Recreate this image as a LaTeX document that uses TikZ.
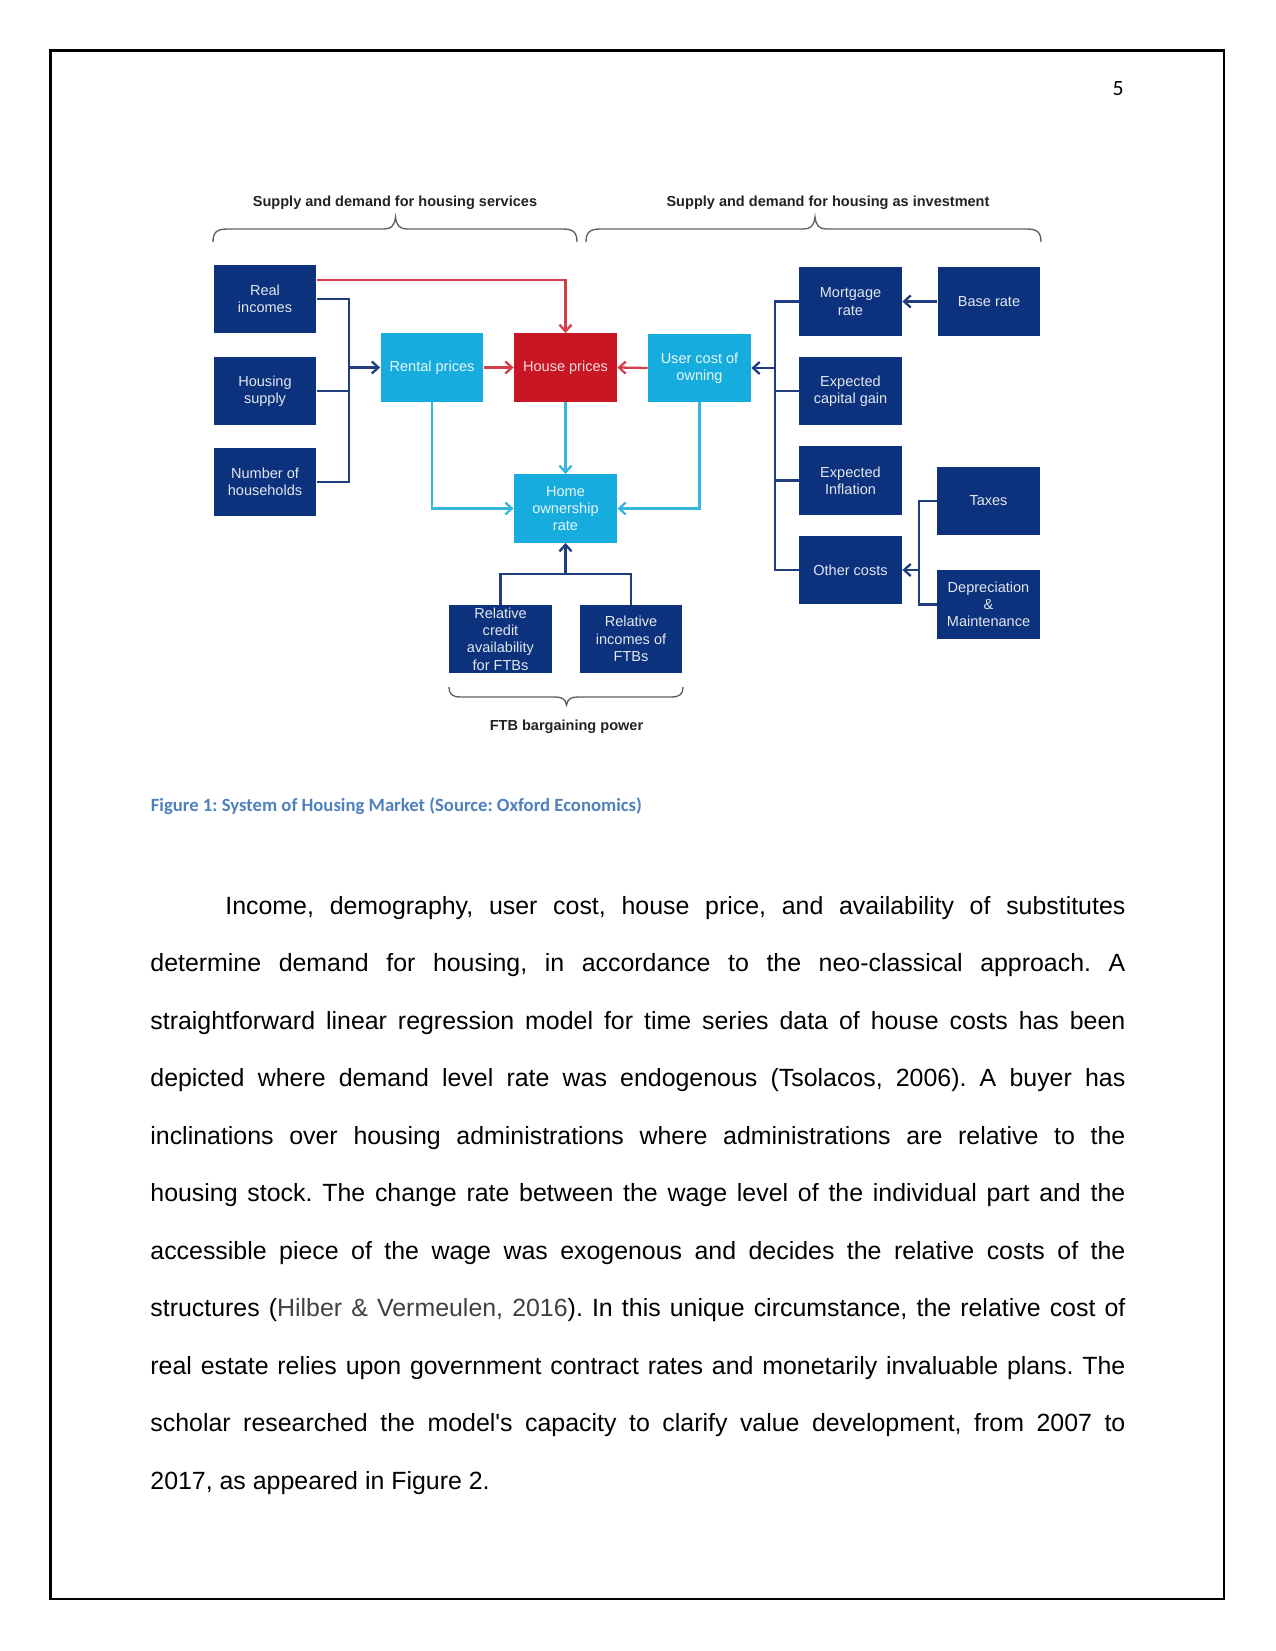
\documentclass[tikz,border=0pt]{standalone}
\usepackage{fontspec}
\setmainfont{Liberation Sans}
\newfontfamily\bodyfont{Liberation Sans}
\newfontfamily\calibri{Carlito}
\usetikzlibrary{arrows.meta,calc}
\definecolor{navy}{RGB}{12,50,125}
\definecolor{cyanc}{RGB}{22,173,222}
\definecolor{redc}{RGB}{200,22,36}
\definecolor{lineblue}{RGB}{30,62,128}
\definecolor{redline}{RGB}{212,62,75}
\definecolor{cyanline}{RGB}{55,183,222}
\definecolor{bracec}{RGB}{95,95,95}
\definecolor{hdrc}{RGB}{35,35,35}
\definecolor{capblue}{RGB}{79,129,189}
\definecolor{citec}{RGB}{64,64,64}
\frenchspacing
\begin{document}
\begin{tikzpicture}[x=0.4818pt,y=-0.4818pt,
  box/.style={minimum width=49.6pt, minimum height=32.8pt, inner sep=0pt, align=center,
    font=\fontsize{7}{8.3}\selectfont},
  navybox/.style={box, fill=navy, text=white!88!navy},
  cyanbox/.style={box, fill=cyanc, text=white!90!cyanc},
  redbox/.style={box, fill=redc, text=white!85!redc},
  arr/.style={-{Straight Barb[length=3.2pt,width=5.8pt]}},
  bl/.style={draw=lineblue, line width=1.1pt},
  rl/.style={draw=redline, line width=1.1pt},
  cl/.style={draw=cyanline, line width=1.1pt},
  bracepath/.style={draw=bracec, line width=0.65pt},
  hdr/.style={inner sep=0pt, font=\bfseries\fontsize{7}{8.3}\selectfont, text=hdrc},
  bodyline/.style={anchor=base west, inner sep=0pt, font=\bodyfont\fontsize{12}{14}\selectfont\frenchspacing}
]
\useasboundingbox (0,0) rectangle (1275,1651);
\fill[white] (0,0) rectangle (1275,1651);
\draw[line width=1pt] (50.5,50.5) rectangle (1224.3,1599);

% page number
\node[anchor=base east, inner sep=0pt, font=\calibri\fontsize{10.5}{12}\selectfont] (pg) at (1124,96) {5};

% headers
\node[hdr] (h1) at (395,202.5) {Supply and demand for housing services};
\node[hdr] (h2) at (828,202.5) {Supply and demand for housing as investment};
\node[hdr] (h3) at (566.5,727) {FTB bargaining power};

% braces
\draw[bracepath] (213,242) .. controls (213,232) and (217,229) .. (228,229) -- (384,229)
  .. controls (391,229) and (394.5,226) .. (395.5,217) .. controls (396.5,226) and (400,229) .. (407,229)
  -- (562,229) .. controls (573,229) and (577,232) .. (577,242);
\draw[bracepath] (586,242) .. controls (586,232) and (590,229) .. (601,229) -- (803.5,229)
  .. controls (810.5,229) and (814,226) .. (815,217) .. controls (816,226) and (819.5,229) .. (826.5,229)
  -- (1026,229) .. controls (1037,229) and (1041,232) .. (1041,242);
\draw[bracepath] (449,687) .. controls (449,694) and (452,697) .. (461,697) -- (555,697)
  .. controls (562,697) and (565.5,699) .. (566.5,705) .. controls (567.5,699) and (571,697) .. (578,697)
  -- (671,697) .. controls (680,697) and (683,694) .. (683,687);

% boxes
\node[navybox] (real) at (265,299) {Real\\incomes};
\node[navybox] (supply) at (265,391) {Housing\\supply};
\node[navybox] (hh) at (265,482) {Number of\\households};
\node[cyanbox] (rental) at (432,367.5) {Rental prices};
\node[redbox] (house) at (565.5,367.5) {House prices};
\node[cyanbox] (user) at (699.5,368) {User cost of\\owning};
\node[cyanbox] (home) at (565.5,508.5) {Home\\ownership\\rate};
\node[navybox] (credit) at (500.5,639) {Relative\\credit\\availability\\for FTBs};
\node[navybox] (relinc) at (631,639) {Relative\\incomes of\\FTBs};
\node[navybox] (mort) at (850.5,301.5) {Mortgage\\rate};
\node[navybox] (base) at (989,301.5) {Base rate};
\node[navybox] (gain) at (850.5,391) {Expected\\capital gain};
\node[navybox] (infl) at (850.5,480.5) {Expected\\Inflation};
\node[navybox] (other) at (850.5,570) {Other costs};
\node[navybox] (taxes) at (988.5,501) {Taxes};
\node[navybox] (dep) at (988.5,604.5) {Depreciation\\\&\\Maintenance};

% left bus
\coordinate (busL) at (349,367.5);
\draw[bl] (real.east) -| (busL);
\draw[bl] (hh.east) -| (busL);
\draw[bl] (supply.east) -- (supply.east -| busL);
\draw[bl,arr] (busL) -- (rental.west);

% red links
\draw[rl,arr] ([yshift=9.2pt]real.east) -| (house.north);
\draw[rl,arr] (rental.east) -- (house.west);
\draw[rl,arr] (user.west) -- (house.east);

% right bus
\coordinate (busR) at (775,368);
\draw[bl] (mort.west) -| (busR);
\draw[bl] (other.west) -| (busR);
\draw[bl] (gain.west) -- (gain.west -| busR);
\draw[bl] (infl.west) -- (infl.west -| busR);
\draw[bl,arr] (busR) -- (user.east);
\draw[bl,arr] (base.west) -- (mort.east);

% taxes bus
\coordinate (busT) at (919,570);
\draw[bl] (taxes.west) -| (busT);
\draw[bl] (dep.west) -| (busT);
\draw[bl,arr] (busT) -- (other.east);

% cyan links
\draw[cl,arr] (rental.south) |- (home.west);
\draw[cl,arr] (house.south) -- (home.north);
\draw[cl,arr] (user.south) |- (home.east);

% bottom bus
\coordinate (busB) at (565.5,574);
\draw[bl] (credit.north) |- (busB);
\draw[bl] (relinc.north) |- (busB);
\draw[bl,arr] (busB) -- (home.south);

% caption
\node[anchor=base west, inner sep=0pt, font=\calibri\bfseries\fontsize{9}{11}\selectfont, text=capblue] (cap) at (150.5,811)
  {Figure 1: System of Housing Market (Source: Oxford Economics)};

% body text
\node[bodyline] (l1) at (225,914.3) {\makebox[6in][s]{Income, demography, user cost, house price, and availability of substitutes}};
\node[bodyline] (l2) at (150,971.8) {\makebox[6.5in][s]{determine demand for housing, in accordance to the neo-classical approach. A}};
\node[bodyline] (l3) at (150,1029.3) {\makebox[6.5in][s]{straightforward linear regression model for time series data of house costs has been}};
\node[bodyline] (l4) at (150,1086.8) {\makebox[6.5in][s]{depicted where demand level rate was endogenous (Tsolacos, 2006). A buyer has}};
\node[bodyline] (l5) at (150,1144.3) {\makebox[6.5in][s]{inclinations over housing administrations where administrations are relative to the}};
\node[bodyline] (l6) at (150,1201.8) {\makebox[6.5in][s]{housing stock. The change rate between the wage level of the individual part and the}};
\node[bodyline] (l7) at (150,1259.3) {\makebox[6.5in][s]{accessible piece of the wage was exogenous and decides the relative costs of the}};
\node[bodyline] (l8) at (150,1316.8) {\makebox[6.5in][s]{structures ({\color{citec}Hilber \& Vermeulen, 2016}). In this unique circumstance, the relative cost of}};
\node[bodyline] (l9) at (150,1374.3) {\makebox[6.5in][s]{real estate relies upon government contract rates and monetarily invaluable plans. The}};
\node[bodyline] (l10) at (150,1431.8) {\makebox[6.5in][s]{scholar researched the model's capacity to clarify value development, from 2007 to}};
\node[bodyline] (l11) at (150,1489.3) {2017, as appeared in Figure 2.};
\end{tikzpicture}
\end{document}
